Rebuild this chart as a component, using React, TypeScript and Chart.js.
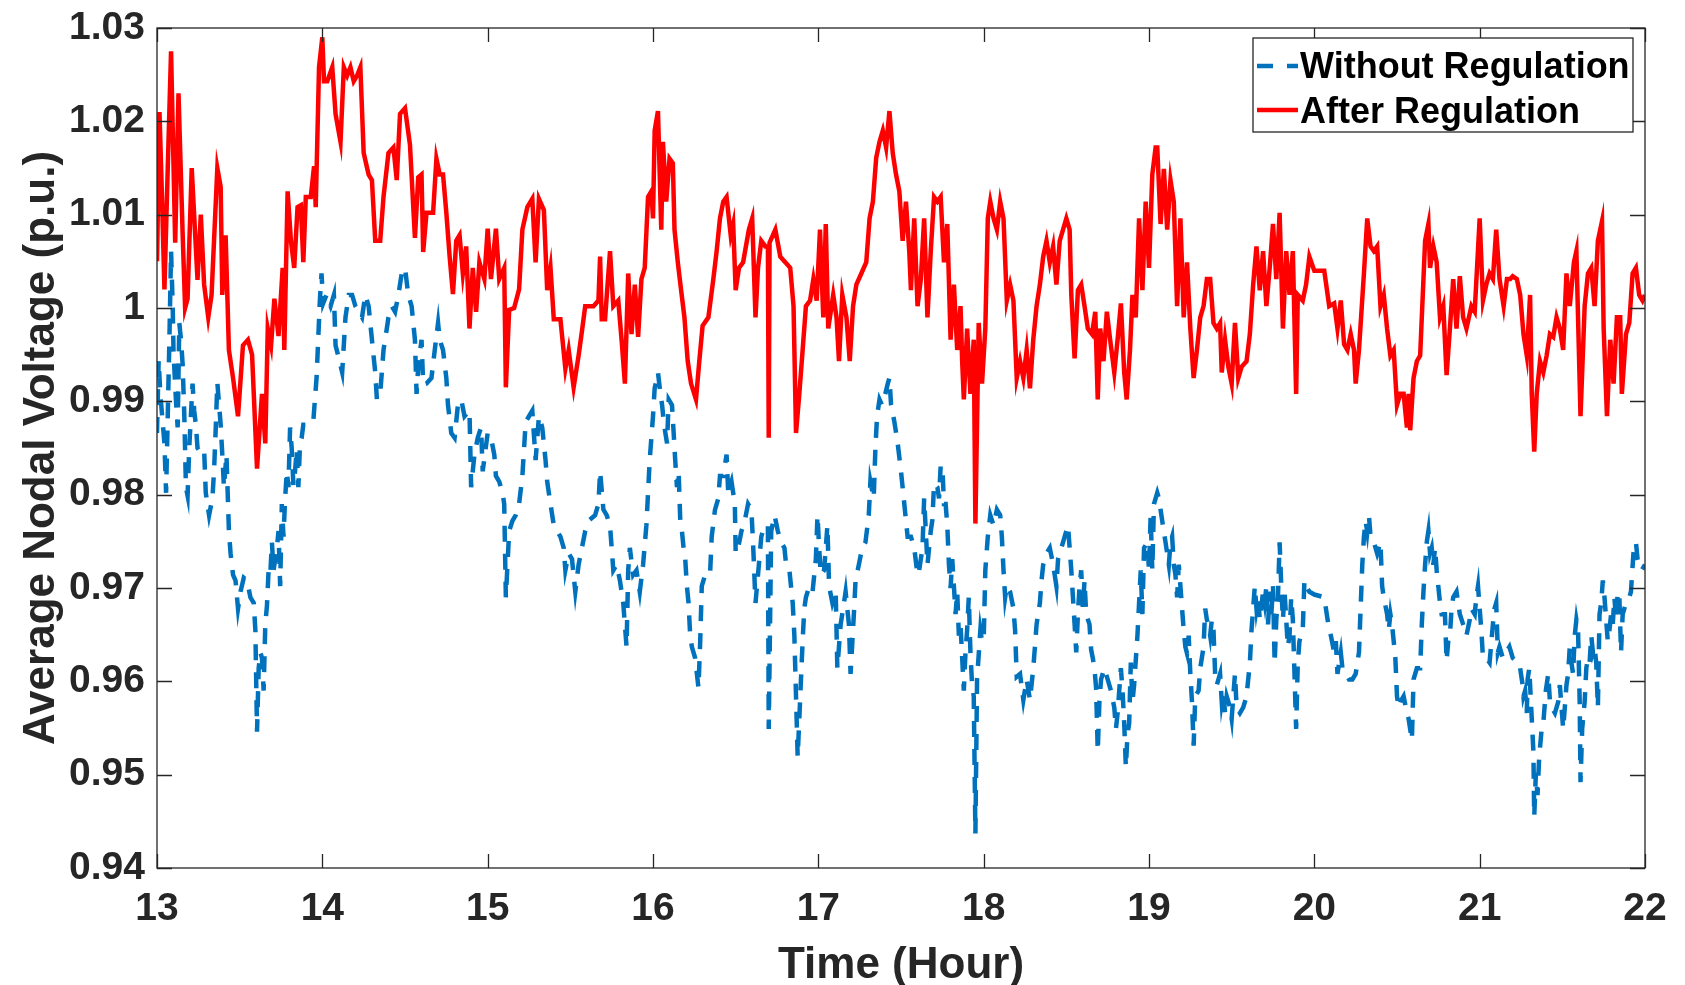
import { useEffect, useRef } from "react";
import { Chart, registerables } from "chart.js";

Chart.register(...registerables);

// axis ticks
const hourTicks = [13, 14, 15, 16, 17, 18, 19, 20, 21, 22];
const voltageTicks = [0.94, 0.95, 0.96, 0.97, 0.98, 0.99, 1.0, 1.01, 1.02, 1.03];

const seriesNames = ["Without Regulation", "After Regulation"];

// "Without Regulation" samples (hour, p.u.)
const withoutHours = [
  13.0, 13.01, 13.02, 13.045, 13.055, 13.075, 13.085, 13.095, 13.1, 13.115, 13.125, 13.135, 13.145, 13.155,
  13.165, 13.175, 13.185, 13.195, 13.215, 13.225, 13.235, 13.245, 13.265, 13.285, 13.295, 13.315, 13.335,
  13.345, 13.355, 13.365, 13.385, 13.395, 13.405, 13.42, 13.435, 13.445, 13.46, 13.475, 13.49, 13.505, 13.525,
  13.545, 13.565, 13.585, 13.595, 13.605, 13.615, 13.625, 13.635, 13.645, 13.655, 13.665, 13.675, 13.685,
  13.695, 13.705, 13.725, 13.735, 13.745, 13.755, 13.765, 13.775, 13.785, 13.795, 13.805, 13.815, 13.825,
  13.835, 13.845, 13.855, 13.865, 13.875, 13.885, 13.905, 13.925, 13.945, 13.965, 13.975, 13.985, 13.995,
  14.005, 14.025, 14.05, 14.07, 14.08, 14.1, 14.12, 14.14, 14.16, 14.18, 14.2, 14.22, 14.24, 14.26, 14.28,
  14.3, 14.32, 14.33, 14.35, 14.37, 14.39, 14.4, 14.42, 14.44, 14.46, 14.48, 14.5, 14.52, 14.54, 14.56, 14.57,
  14.58, 14.6, 14.61, 14.63, 14.66, 14.68, 14.7, 14.71, 14.73, 14.75, 14.76, 14.78, 14.8, 14.82, 14.84, 14.86,
  14.89, 14.9, 14.92, 14.94, 14.96, 14.97, 15.0, 15.02, 15.04, 15.05, 15.07, 15.09, 15.1, 15.11, 15.13, 15.15,
  15.17, 15.19, 15.21, 15.23, 15.25, 15.27, 15.29, 15.31, 15.33, 15.35, 15.36, 15.38, 15.4, 15.42, 15.44,
  15.46, 15.47, 15.49, 15.51, 15.53, 15.55, 15.57, 15.59, 15.61, 15.63, 15.65, 15.67, 15.68, 15.7, 15.72,
  15.74, 15.76, 15.78, 15.8, 15.82, 15.84, 15.85, 15.86, 15.88, 15.9, 15.92, 15.94, 15.96, 15.97, 15.98, 16.0,
  16.01, 16.03, 16.045, 16.055, 16.065, 16.075, 16.085, 16.095, 16.115, 16.125, 16.135, 16.145, 16.155,
  16.165, 16.175, 16.185, 16.195, 16.205, 16.215, 16.225, 16.235, 16.255, 16.275, 16.285, 16.295, 16.315,
  16.345, 16.355, 16.375, 16.395, 16.405, 16.425, 16.445, 16.455, 16.475, 16.495, 16.5, 16.515, 16.535,
  16.555, 16.575, 16.595, 16.605, 16.62, 16.635, 16.655, 16.675, 16.695, 16.7, 16.715, 16.735, 16.755,
  16.775, 16.795, 16.805, 16.825, 16.845, 16.855, 16.865, 16.875, 16.885, 16.895, 16.905, 16.915, 16.925,
  16.945, 16.965, 16.985, 16.995, 17.005, 17.015, 17.035, 17.055, 17.065, 17.085, 17.105, 17.115, 17.135,
  17.155, 17.165, 17.185, 17.195, 17.215, 17.225, 17.245, 17.265, 17.285, 17.305, 17.315, 17.335, 17.345,
  17.355, 17.37, 17.385, 17.405, 17.42, 17.43, 17.44, 17.46, 17.48, 17.5, 17.52, 17.54, 17.56, 17.58, 17.6,
  17.61, 17.63, 17.64, 17.65, 17.66, 17.67, 17.68, 17.69, 17.7, 17.72, 17.73, 17.74, 17.75, 17.76, 17.77,
  17.78, 17.79, 17.8, 17.81, 17.82, 17.83, 17.84, 17.85, 17.86, 17.87, 17.88, 17.89, 17.9, 17.91, 17.92,
  17.93, 17.94, 17.95, 17.96, 17.98, 17.99, 18.0, 18.01, 18.025, 18.04, 18.06, 18.08, 18.1, 18.11, 18.12,
  18.13, 18.14, 18.16, 18.18, 18.19, 18.2, 18.22, 18.24, 18.26, 18.28, 18.3, 18.31, 18.32, 18.34, 18.35,
  18.36, 18.38, 18.4, 18.42, 18.44, 18.45, 18.47, 18.49, 18.51, 18.52, 18.53, 18.54, 18.55, 18.56, 18.57,
  18.58, 18.59, 18.6, 18.61, 18.62, 18.64, 18.65, 18.66, 18.67, 18.68, 18.69, 18.7, 18.71, 18.73, 18.75,
  18.77, 18.79, 18.8, 18.81, 18.83, 18.84, 18.85, 18.86, 18.87, 18.88, 18.89, 18.9, 18.91, 18.93, 18.94,
  18.95, 18.96, 18.97, 18.99, 19.0, 19.01, 19.02, 19.03, 19.04, 19.05, 19.06, 19.07, 19.08, 19.09, 19.1,
  19.11, 19.12, 19.13, 19.14, 19.15, 19.16, 19.17, 19.18, 19.19, 19.2, 19.21, 19.22, 19.23, 19.24, 19.25,
  19.26, 19.27, 19.28, 19.3, 19.31, 19.33, 19.34, 19.35, 19.36, 19.37, 19.38, 19.39, 19.4, 19.41, 19.43,
  19.44, 19.45, 19.46, 19.47, 19.49, 19.5, 19.52, 19.53, 19.55, 19.57, 19.59, 19.6, 19.61, 19.62, 19.63,
  19.64, 19.65, 19.66, 19.67, 19.69, 19.7, 19.71, 19.72, 19.73, 19.74, 19.75, 19.76, 19.77, 19.78, 19.79,
  19.8, 19.81, 19.82, 19.83, 19.84, 19.85, 19.86, 19.87, 19.88, 19.89, 19.9, 19.91, 19.93, 19.94, 19.95,
  19.97, 20.0, 20.06, 20.07, 20.09, 20.1, 20.12, 20.13, 20.14, 20.15, 20.16, 20.17, 20.19, 20.21, 20.23,
  20.25, 20.27, 20.28, 20.29, 20.3, 20.31, 20.32, 20.33, 20.34, 20.36, 20.38, 20.4, 20.41, 20.42, 20.44,
  20.45, 20.46, 20.47, 20.49, 20.5, 20.51, 20.52, 20.54, 20.56, 20.57, 20.59, 20.6, 20.61, 20.62, 20.64,
  20.645, 20.65, 20.66, 20.67, 20.68, 20.69, 20.7, 20.71, 20.72, 20.73, 20.74, 20.76, 20.77, 20.79, 20.8,
  20.81, 20.82, 20.83, 20.84, 20.86, 20.87, 20.88, 20.9, 20.92, 20.94, 20.95, 20.97, 20.98, 20.99, 21.0,
  21.01, 21.02, 21.04, 21.06, 21.08, 21.09, 21.1, 21.11, 21.12, 21.14, 21.16, 21.18, 21.2, 21.22, 21.24,
  21.26, 21.265, 21.275, 21.285, 21.29, 21.3, 21.315, 21.325, 21.33, 21.34, 21.35, 21.36, 21.375, 21.385,
  21.4, 21.415, 21.425, 21.435, 21.455, 21.475, 21.485, 21.505, 21.515, 21.525, 21.535, 21.545, 21.555,
  21.565, 21.575, 21.585, 21.595, 21.605, 21.61, 21.62, 21.635, 21.645, 21.655, 21.665, 21.675, 21.685,
  21.695, 21.705, 21.715, 21.725, 21.735, 21.745, 21.755, 21.765, 21.775, 21.785, 21.795, 21.805, 21.815,
  21.825, 21.835, 21.845, 21.855, 21.865, 21.885, 21.905, 21.915, 21.93, 21.935, 21.945, 21.955, 21.965,
  21.98, 22.0,
];
const withoutVoltage = [
  0.9866, 0.9944, 0.9908, 0.9855, 0.9802, 0.9966, 1.0061, 1.0002, 0.9952, 0.99, 0.9872, 0.9984, 0.9966, 0.994,
  0.9886, 0.9808, 0.9799, 0.985, 0.9919, 0.989, 0.9875, 0.985, 0.9845, 0.9848, 0.9802, 0.9778, 0.9796,
  0.9825, 0.987, 0.992, 0.9875, 0.9843, 0.9808, 0.9843, 0.9761, 0.9737, 0.9714, 0.9708, 0.9678, 0.9696, 0.9711,
  0.9708, 0.969, 0.9684, 0.9655, 0.9546, 0.9614, 0.9631, 0.9625, 0.959, 0.9661, 0.9681, 0.9719, 0.9714,
  0.9749, 0.9719, 0.9743, 0.9761, 0.9702, 0.979, 0.9755, 0.9796, 0.9825, 0.9808, 0.9872, 0.9849, 0.981,
  0.9825, 0.9849, 0.9808, 0.9855, 0.9861, 0.9875, 0.9875, 0.9878, 0.9878, 0.9925, 0.9966, 1.0008, 1.0037,
  1.0005, 1.0014, 1.0002, 1.0014, 0.996, 0.9946, 0.9931, 0.999, 1.0014, 1.0014, 1.0002, 0.9996, 0.999, 1.0014, 1.0002,
  0.9966, 0.9931, 0.9902, 0.9908, 0.9955, 0.9978, 0.999, 1.0002, 0.9996, 1.0014, 1.0037, 1.0043, 1.0014, 1.0002, 0.9966, 0.9908,
  0.9937, 0.9966, 0.9918, 0.9919, 0.9925, 0.9955, 0.9984, 0.9966, 0.9955, 0.9925, 0.9896, 0.9866, 0.9861, 0.9896, 0.9902, 0.9884,
  0.989, 0.9808, 0.9843, 0.9861, 0.9872, 0.9825, 0.9866, 0.9861, 0.9843, 0.982, 0.9814, 0.9802, 0.979, 0.969, 0.9761, 0.9772,
  0.9778, 0.979, 0.982, 0.9878, 0.9884, 0.989, 0.9837, 0.9884, 0.9872, 0.9837, 0.9814, 0.979, 0.9767, 0.9761, 0.9755,
  0.9743, 0.9719, 0.9737, 0.9731, 0.9696, 0.9725, 0.9743, 0.9761, 0.9772, 0.9775, 0.9778, 0.979, 0.9825, 0.9784, 0.9778,
  0.9767, 0.9719, 0.9725, 0.9708, 0.9684, 0.9637, 0.9719, 0.9743, 0.9714, 0.9719, 0.9696, 0.9725, 0.9767, 0.9802, 0.9837, 0.9884,
  0.9914, 0.9931, 0.9908, 0.9896, 0.9878, 0.9866, 0.9855, 0.9902, 0.9896, 0.9866, 0.9835, 0.9808, 0.9825,
  0.9772, 0.9761, 0.9743, 0.9731, 0.9702, 0.9684, 0.9649, 0.9637, 0.9625, 0.9593, 0.964, 0.9702, 0.9714,
  0.9714, 0.9755, 0.9784, 0.9796, 0.982, 0.982, 0.9843, 0.9802, 0.9814, 0.979, 0.9737, 0.9743, 0.9761,
  0.9772, 0.979, 0.9784, 0.9749, 0.9684, 0.9714, 0.9755, 0.9767, 0.9767, 0.9549, 0.9761, 0.9778, 0.9761,
  0.9749, 0.9743, 0.9725, 0.9719, 0.9684, 0.9649, 0.9584, 0.9519, 0.956, 0.9602, 0.9643, 0.9678, 0.969,
  0.9702, 0.9696, 0.9731, 0.9778, 0.9743, 0.9714, 0.9719, 0.9767, 0.9702, 0.9684, 0.9696, 0.9614, 0.9661,
  0.9684, 0.9696, 0.9661, 0.9608, 0.9672, 0.9708, 0.9725, 0.9743, 0.9749, 0.9778, 0.9814, 0.9796, 0.9849,
  0.9884, 0.9902, 0.9896, 0.9908, 0.9919, 0.9925, 0.9896, 0.9878, 0.9855, 0.9825, 0.979, 0.9755, 0.9755, 0.9743, 0.9714,
  0.9719, 0.9743, 0.9796, 0.9761, 0.9725, 0.9743, 0.9761, 0.9773, 0.9812, 0.9808, 0.9796, 0.9831, 0.9831, 0.979, 0.979,
  0.9767, 0.9725, 0.97, 0.9731, 0.9702, 0.9672, 0.9696, 0.9649, 0.9661, 0.9625, 0.959, 0.9631, 0.9655, 0.969, 0.9631,
  0.9596, 0.9584, 0.9437, 0.9602, 0.9655, 0.9643, 0.9643, 0.9719, 0.9755, 0.9778, 0.9767, 0.9784, 0.9778, 0.9755, 0.9719,
  0.969, 0.9702, 0.9696, 0.9678, 0.9655, 0.9605, 0.9608, 0.958, 0.9602, 0.958, 0.9614, 0.9637, 0.9661, 0.9684, 0.9708,
  0.9725, 0.9737, 0.9743, 0.9725, 0.9702, 0.9731, 0.9743, 0.9755, 0.9767, 0.9743, 0.9719, 0.969, 0.9661, 0.9631, 0.9672,
  0.9702, 0.9719, 0.9678, 0.9708, 0.9672, 0.9661, 0.9634, 0.9625, 0.9614, 0.9593, 0.9525, 0.9578, 0.9602, 0.9614, 0.9602,
  0.959, 0.9572, 0.9549, 0.9566, 0.9614, 0.959, 0.9555, 0.9508, 0.9543, 0.9555, 0.962, 0.9578, 0.9596, 0.9649, 0.9684,
  0.9719, 0.9672, 0.9743, 0.9749, 0.9719, 0.9778, 0.9719, 0.979, 0.9796, 0.9802, 0.9796, 0.9784, 0.9772, 0.976, 0.9749,
  0.9737, 0.9725, 0.9749, 0.9755, 0.9725, 0.9714, 0.969, 0.9725, 0.9702, 0.9678, 0.9655, 0.9637, 0.963, 0.9649, 0.9608,
  0.9578, 0.9531, 0.9584, 0.959, 0.9614, 0.9637, 0.9678, 0.9666, 0.9661, 0.9649, 0.9666, 0.9655, 0.9608, 0.9596, 0.9608,
  0.9578, 0.959, 0.9566, 0.9584, 0.9572, 0.956, 0.9608, 0.9572, 0.9566, 0.9572, 0.9584, 0.9602, 0.9619, 0.9655, 0.9678,
  0.9702, 0.9678, 0.969, 0.9666, 0.9696, 0.9684, 0.9702, 0.9661, 0.9696, 0.9672, 0.9702, 0.9619, 0.9666, 0.969, 0.9749,
  0.9702, 0.9666, 0.9696, 0.9666, 0.9637, 0.9649, 0.969, 0.9666, 0.9608, 0.9549, 0.962, 0.9643, 0.9655, 0.9708, 0.9702,
  0.9696, 0.9693, 0.969, 0.9678, 0.9655, 0.9649, 0.9631, 0.9643, 0.9608, 0.962, 0.9631, 0.9614, 0.9608, 0.9602, 0.9602,
  0.9608, 0.9631, 0.9678, 0.9725, 0.9755, 0.9772, 0.976, 0.9778, 0.9755, 0.9749, 0.9737, 0.9749, 0.9702, 0.969, 0.9672,
  0.9655, 0.9672, 0.9661, 0.9625, 0.9584, 0.9572, 0.9578, 0.9584, 0.9566, 0.956, 0.9537, 0.9602, 0.9608, 0.9614, 0.9614,
  0.9637, 0.9661, 0.9696, 0.9725, 0.9749, 0.9761, 0.9737, 0.9743, 0.9725, 0.9743, 0.9719, 0.9684, 0.9672, 0.9672, 0.9622,
  0.9643, 0.9649, 0.9678, 0.969, 0.9696, 0.9684, 0.9672, 0.9661, 0.9649, 0.9666, 0.9678, 0.9672, 0.969, 0.9702, 0.9678,
  0.9655, 0.9625, 0.9625, 0.962, 0.9661, 0.9678, 0.9684, 0.9631, 0.9637, 0.9625, 0.9631, 0.9637, 0.9625, 0.9622, 0.962,
  0.9596, 0.9584, 0.959, 0.9566, 0.9602, 0.9614, 0.956, 0.9525, 0.9455, 0.9502, 0.9478, 0.9519, 0.9549, 0.9555,
  0.959, 0.9608, 0.9578, 0.9572, 0.9566, 0.9578, 0.9596, 0.9549, 0.9572, 0.9596, 0.9608, 0.9637, 0.962,
  0.9608, 0.9649, 0.9666, 0.9655, 0.9578, 0.9492, 0.9549, 0.9578, 0.9614, 0.9625, 0.962, 0.9649, 0.9631,
  0.9637, 0.962, 0.9572, 0.9672, 0.9684, 0.9708, 0.969, 0.9666, 0.9643, 0.9655, 0.9672, 0.9661, 0.969,
  0.9666, 0.9696, 0.969, 0.9631, 0.9672, 0.9684, 0.969, 0.9696, 0.9737, 0.9743, 0.9749, 0.9731, 0.9725,
  0.9719, 0.9725,
];

// "After Regulation" samples (hour, p.u.)
const afterHours = [
  13.0, 13.015, 13.03, 13.045, 13.065, 13.085, 13.11, 13.13, 13.155, 13.17, 13.185, 13.21, 13.245, 13.265,
  13.285, 13.31, 13.33, 13.365, 13.385, 13.395, 13.415, 13.435, 13.46, 13.49, 13.52, 13.55, 13.575, 13.605,
  13.635, 13.655, 13.67, 13.69, 13.71, 13.735, 13.76, 13.77, 13.79, 13.81, 13.83, 13.85, 13.87, 13.885, 13.9,
  13.93, 13.95, 13.96, 13.98, 14.0, 14.01, 14.03, 14.06, 14.08, 14.11, 14.13, 14.15, 14.17, 14.19, 14.21,
  14.23, 14.25, 14.28, 14.3, 14.32, 14.35, 14.37, 14.4, 14.43, 14.45, 14.47, 14.5, 14.53, 14.56, 14.58, 14.6,
  14.61, 14.63, 14.67, 14.69, 14.71, 14.73, 14.75, 14.77, 14.79, 14.81, 14.83, 14.85, 14.87, 14.89, 14.91,
  14.93, 14.95, 14.98, 15.0, 15.02, 15.05, 15.07, 15.1, 15.11, 15.13, 15.16, 15.19, 15.21, 15.24, 15.27,
  15.29, 15.31, 15.34, 15.36, 15.38, 15.4, 15.44, 15.47, 15.49, 15.52, 15.55, 15.57, 15.59, 15.64, 15.67,
  15.68, 15.69, 15.71, 15.74, 15.76, 15.79, 15.81, 15.83, 15.85, 15.87, 15.89, 15.91, 15.93, 15.95, 15.97,
  15.99, 16.0, 16.01, 16.03, 16.05, 16.06, 16.08, 16.1, 16.12, 16.13, 16.15, 16.17, 16.19, 16.21, 16.23,
  16.26, 16.28, 16.3, 16.335, 16.365, 16.385, 16.405, 16.425, 16.445, 16.47, 16.485, 16.5, 16.52, 16.545,
  16.58, 16.6, 16.62, 16.635, 16.655, 16.68, 16.695, 16.7, 16.705, 16.74, 16.77, 16.8, 16.83, 16.85, 16.865,
  16.885, 16.9, 16.925, 16.95, 16.97, 16.99, 17.01, 17.03, 17.045, 17.06, 17.09, 17.11, 17.125, 17.145,
  17.17, 17.19, 17.21, 17.23, 17.26, 17.29, 17.31, 17.33, 17.35, 17.37, 17.39, 17.41, 17.43, 17.45, 17.47,
  17.49, 17.51, 17.53, 17.55, 17.56, 17.58, 17.6, 17.62, 17.64, 17.66, 17.68, 17.7, 17.72, 17.74, 17.76,
  17.78, 17.8, 17.82, 17.84, 17.86, 17.87, 17.88, 17.9, 17.92, 17.94, 17.95, 17.97, 17.99, 18.01, 18.025,
  18.04, 18.06, 18.08, 18.1, 18.12, 18.14, 18.16, 18.18, 18.2, 18.22, 18.24, 18.26, 18.28, 18.3, 18.32,
  18.34, 18.36, 18.38, 18.4, 18.42, 18.44, 18.46, 18.48, 18.5, 18.52, 18.53, 18.55, 18.57, 18.59, 18.61,
  18.63, 18.655, 18.675, 18.69, 18.705, 18.725, 18.745, 18.765, 18.79, 18.81, 18.83, 18.85, 18.865, 18.885,
  18.9, 18.92, 18.94, 18.96, 18.98, 19.0, 19.02, 19.04, 19.05, 19.07, 19.09, 19.11, 19.13, 19.15, 19.17,
  19.19, 19.21, 19.23, 19.25, 19.27, 19.29, 19.31, 19.33, 19.35, 19.37, 19.39, 19.41, 19.43, 19.44, 19.46,
  19.48, 19.5, 19.52, 19.54, 19.56, 19.59, 19.61, 19.63, 19.65, 19.67, 19.69, 19.71, 19.73, 19.75, 19.77,
  19.79, 19.81, 19.83, 19.85, 19.87, 19.89, 19.9, 19.93, 19.95, 19.97, 20.0, 20.06, 20.09, 20.12, 20.14,
  20.16, 20.18, 20.2, 20.22, 20.24, 20.25, 20.27, 20.3, 20.32, 20.34, 20.36, 20.38, 20.4, 20.42, 20.44,
  20.46, 20.48, 20.5, 20.52, 20.54, 20.56, 20.57, 20.58, 20.6, 20.62, 20.64, 20.65, 20.67, 20.69, 20.7,
  20.72, 20.74, 20.76, 20.78, 20.8, 20.82, 20.84, 20.86, 20.88, 20.9, 20.92, 20.95, 20.97, 21.0, 21.02,
  21.04, 21.06, 21.08, 21.1, 21.12, 21.145, 21.165, 21.185, 21.2, 21.225, 21.245, 21.265, 21.285, 21.305,
  21.315, 21.33, 21.345, 21.365, 21.385, 21.405, 21.425, 21.445, 21.465, 21.485, 21.505, 21.525, 21.545,
  21.57, 21.585, 21.61, 21.635, 21.655, 21.675, 21.695, 21.715, 21.74, 21.75, 21.77, 21.79, 21.81, 21.83,
  21.85, 21.86, 21.885, 21.905, 21.925, 21.945, 21.965, 21.985, 22.0,
];
const afterVoltage = [
  1.005, 1.021, 1.012, 1.002, 1.015, 1.0275, 1.007, 1.023, 1.008, 1.0, 1.001, 1.015, 1.003, 1.01,
  1.0025, 0.999, 1.0014, 1.015, 1.013, 1.0014, 1.0078, 0.9955, 0.9925, 0.9884, 0.996, 0.9966, 0.995, 0.9828,
  0.9908, 0.9855, 0.9978, 0.996, 1.001, 0.997, 1.0043, 0.9955, 1.0125, 1.0072, 1.0043, 1.0108, 1.011, 1.0049, 1.0119,
  1.0119, 1.0152, 1.0108, 1.0258, 1.029, 1.0243, 1.0243, 1.0258, 1.0208, 1.0178, 1.0258, 1.0249, 1.0258, 1.0243, 1.0249,
  1.0258, 1.0166, 1.0143, 1.0137, 1.0072, 1.0072, 1.0119, 1.0166, 1.0172, 1.0137, 1.0208, 1.0214, 1.0175, 1.0075, 1.014, 1.0143,
  1.006, 1.0102, 1.0102, 1.016, 1.0143, 1.0143, 1.0102, 1.0055, 1.0015, 1.0072, 1.0078, 1.0037, 1.0066, 0.9978, 1.0043,
  0.9996, 1.0049, 1.0031, 1.0085, 1.0031, 1.0085, 1.0031, 1.0043, 0.9915, 0.9998, 1.0, 1.002, 1.0084, 1.0108, 1.0117,
  1.0049, 1.0117, 1.0105, 1.0019, 1.0043, 0.9988, 0.9988, 0.9935, 0.9955, 0.9915, 0.9949, 0.9975, 1.0002, 1.0002, 1.0008,
  1.0055, 0.9988, 0.9988, 1.0061, 1.0002, 1.0008, 0.9966, 0.9919, 1.0037, 0.9972, 1.0025, 0.9969, 1.0031, 1.0043, 1.0119,
  1.0125, 1.0096, 1.019, 1.0211, 1.0084, 1.0178, 1.0114, 1.016, 1.0155, 1.0084, 1.0049, 1.0019, 0.999, 0.9943, 0.9919,
  0.9902, 0.9943, 0.9981, 0.999, 1.0031, 1.0061, 1.0096, 1.0114, 1.0119, 1.0078, 1.009, 1.0019, 1.0043, 1.0049,
  1.0084, 1.0096, 0.999, 1.0043, 1.0072, 1.0066, 1.0066, 0.9861, 1.007, 1.0084, 1.0055, 1.0049, 1.0043, 1.0002, 0.9866,
  0.9908, 0.9943, 1.0002, 1.0008, 1.0031, 1.0008, 1.0084, 0.999, 1.009, 0.9978, 1.0014, 0.999, 0.9943, 1.0014,
  0.999, 0.9943, 1.0002, 1.0025, 1.0037, 1.0049, 1.0096, 1.0114, 1.0161, 1.0178, 1.019, 1.0172, 1.0211, 1.0166, 1.0143,
  1.0125, 1.0072, 1.0114, 1.0061, 1.0019, 1.0096, 1.0002, 1.0031, 1.0096, 0.999, 1.0061, 1.0119, 1.0114, 1.0119, 1.0049,
  1.009, 0.9966, 1.0025, 0.9955, 1.0002, 0.9943, 0.9902, 0.9978, 0.9908, 0.9966, 0.9769, 0.9984, 0.9919, 0.9978, 1.0096,
  1.0114, 1.0096, 1.0084, 1.0114, 1.0096, 1.0008, 1.0025, 1.0008, 0.9925, 0.9943, 0.9925, 0.9955, 0.9914, 0.9966, 1.0002,
  1.0025, 1.0055, 1.0072, 1.0049, 1.0066, 1.0025, 1.0072, 1.0084, 1.0096, 1.0084, 1.0014, 0.9946, 1.0019, 1.0025, 1.0002,
  0.9978, 0.9972, 0.9996, 0.9902, 0.9978, 0.9943, 0.9996, 0.9966, 0.9931, 0.9966, 1.0005, 0.9931, 0.9902, 0.9955,
  1.0014, 0.999, 1.0096, 1.0019, 1.0114, 1.0043, 1.0143, 1.0172, 1.0172, 1.009, 1.0149, 1.0084, 1.0137, 1.0114, 1.0002,
  1.0096, 0.999, 1.0049, 0.9978, 0.9925, 0.9955, 0.999, 1.0002, 1.0031, 1.0031, 0.9984, 0.9978, 0.9984, 0.9931, 0.9966,
  0.9937, 0.9919, 0.9984, 0.9925, 0.9937, 0.9943, 0.9972, 1.0025, 1.0066, 1.0019, 1.0061, 1.0002, 1.0043, 1.009, 1.0031,
  1.0102, 0.9978, 1.0061, 1.0014, 1.0061, 0.9908, 1.0014, 1.0008, 1.0025, 1.0055, 1.004, 1.004, 1.0002, 1.0005, 0.9978,
  1.0008, 0.9961, 0.9955, 0.9972, 0.9955, 0.9919, 0.9955, 1.0037, 1.0096, 1.0066, 1.0061, 1.0066, 1.0002, 1.0014, 0.9978,
  0.9949, 0.9955, 0.9896, 0.9908, 0.9908, 0.9872, 0.9908, 0.9869, 0.9925, 0.9943, 0.9949, 0.999, 1.0072, 1.009, 1.0043,
  1.0066, 1.0049, 0.999, 1.0002, 0.9928, 0.9978, 1.0031, 0.9978, 1.0034, 0.999, 0.9978, 1.0002, 0.9996, 1.0096, 1.0008,
  1.0025, 1.0037, 1.0031, 1.0084, 1.0031, 1.0002, 1.0031, 1.0031, 1.0034, 1.0031, 1.0014, 0.9972, 0.9949, 1.0014,
  0.9908, 0.9846, 0.9908, 0.9943, 0.9931, 0.9949, 0.9972, 0.9969, 0.999, 0.9978, 0.9955, 1.0037, 1.0002,
  1.0049, 1.0061, 0.9884, 1.0002, 1.0037, 1.0043, 1.0002, 1.0072, 1.0093, 0.9978, 0.9884, 0.9966, 0.9919, 0.999,
  0.999, 0.9908, 0.9972, 0.9984, 1.0037, 1.0043, 1.0014, 1.0008, 1.0014,
];

const blue = "#0072BD";
const red = "#FF0000";
const axisInk = "#262626";
const fontFamily = "'Liberation Sans', Arial, sans-serif";

// box, inward ticks, axis titles and legend drawn like a MATLAB figure
const matlabFrame = {
  id: "matlabFrame",
  afterDraw(chart: any) {
    const { ctx, chartArea: a, scales } = chart;
    ctx.save();

    ctx.strokeStyle = axisInk;
    ctx.lineWidth = 1.3;
    ctx.strokeRect(a.left, a.top, a.right - a.left, a.bottom - a.top);
    ctx.beginPath();
    hourTicks.forEach((h) => {
      const px = Math.round(scales.x.getPixelForValue(h)) + 0.5;
      ctx.moveTo(px, a.bottom);
      ctx.lineTo(px, a.bottom - 14);
      ctx.moveTo(px, a.top);
      ctx.lineTo(px, a.top + 14);
    });
    voltageTicks.forEach((v) => {
      const py = Math.round(scales.y.getPixelForValue(v)) + 0.5;
      ctx.moveTo(a.left, py);
      ctx.lineTo(a.left + 15, py);
      ctx.moveTo(a.right, py);
      ctx.lineTo(a.right - 15, py);
    });
    ctx.stroke();

    // axis titles
    ctx.fillStyle = axisInk;
    ctx.font = `bold 44px ${fontFamily}`;
    ctx.textAlign = "center";
    ctx.textBaseline = "middle";
    ctx.fillText("Time (Hour)", (a.left + a.right) / 2, 966);
    ctx.save();
    ctx.translate(42, (a.top + a.bottom) / 2);
    ctx.rotate(-Math.PI / 2);
    ctx.fillText("Average Nodal Voltage (p.u.)", 0, 0);
    ctx.restore();

    // legend
    const lx = 1253, ly = 38, lw = 380, lh = 94;
    ctx.fillStyle = "#ffffff";
    ctx.fillRect(lx, ly, lw, lh);
    ctx.strokeStyle = axisInk;
    ctx.lineWidth = 1.3;
    ctx.strokeRect(lx, ly, lw, lh);

    ctx.lineWidth = 4.5;
    ctx.strokeStyle = blue;
    ctx.setLineDash([16, 14]);
    ctx.beginPath();
    ctx.moveTo(1257, 66);
    ctx.lineTo(1298, 66);
    ctx.stroke();
    ctx.setLineDash([]);
    ctx.strokeStyle = red;
    ctx.lineWidth = 4.5;
    ctx.beginPath();
    ctx.moveTo(1257, 110);
    ctx.lineTo(1298, 110);
    ctx.stroke();

    ctx.fillStyle = "#000000";
    ctx.font = `bold 36px ${fontFamily}`;
    ctx.textAlign = "left";
    ctx.fillText(seriesNames[0], 1300, 68);
    ctx.fillText(seriesNames[1], 1300, 113);

    ctx.restore();
  },
};

export default function App() {
  const canvasRef = useRef<HTMLCanvasElement | null>(null);

  useEffect(() => {
    const canvas = canvasRef.current;
    if (!canvas) return;

    const chart = new Chart(canvas, {
      type: "line",
      data: {
        datasets: [
          {
            label: seriesNames[0],
            data: withoutHours.map((h, i) => ({ x: h, y: withoutVoltage[i] })),
            borderColor: blue,
            borderWidth: 4.5,
            borderDash: [16, 12],
            pointRadius: 0,
            tension: 0,
            order: 1,
          },
          {
            label: seriesNames[1],
            data: afterHours.map((h, i) => ({ x: h, y: afterVoltage[i] })),
            borderColor: red,
            borderWidth: 4.5,
            pointRadius: 0,
            tension: 0,
            order: 0,
          },
        ],
      },
      options: {
        responsive: false,
        animation: false,
        events: [],
        layout: { padding: { left: 0, right: 40, top: 28, bottom: 0 } },
        plugins: {
          legend: { display: false },
          tooltip: { enabled: false },
        },
        scales: {
          x: {
            type: "linear",
            min: 13,
            max: 22,
            afterBuildTicks: (scale: any) => {
              scale.ticks = hourTicks.map((value) => ({ value }));
            },
            afterFit: (scale: any) => {
              scale.height = 117;
              scale.paddingLeft = 0;
              scale.paddingRight = 0;
            },
            grid: { display: false, drawTicks: false },
            border: { display: false },
            ticks: {
              padding: 18,
              color: axisInk,
              font: { family: fontFamily, size: 39, weight: "bold" },
              callback: (v: any) => String(v),
            },
          },
          y: {
            type: "linear",
            min: 0.94,
            max: 1.03,
            afterBuildTicks: (scale: any) => {
              scale.ticks = voltageTicks.map((value) => ({ value }));
            },
            afterFit: (scale: any) => {
              scale.width = 157;
              scale.paddingTop = 0;
              scale.paddingBottom = 0;
            },
            grid: { display: false, drawTicks: false },
            border: { display: false },
            ticks: {
              padding: 12,
              color: axisInk,
              font: { family: fontFamily, size: 39, weight: "bold" },
              callback: (v: any) => String(Number(Number(v).toFixed(2))),
            },
          },
        },
      },
      plugins: [matlabFrame],
    });

    return () => {
      chart.destroy();
    };
  }, []);

  return (
    <div style={{ position: "fixed", left: 0, top: 0, width: 1685, height: 985, background: "#fff" }}>
      <canvas ref={canvasRef} width={1685} height={985} style={{ width: 1685, height: 985 }} />
    </div>
  );
}
